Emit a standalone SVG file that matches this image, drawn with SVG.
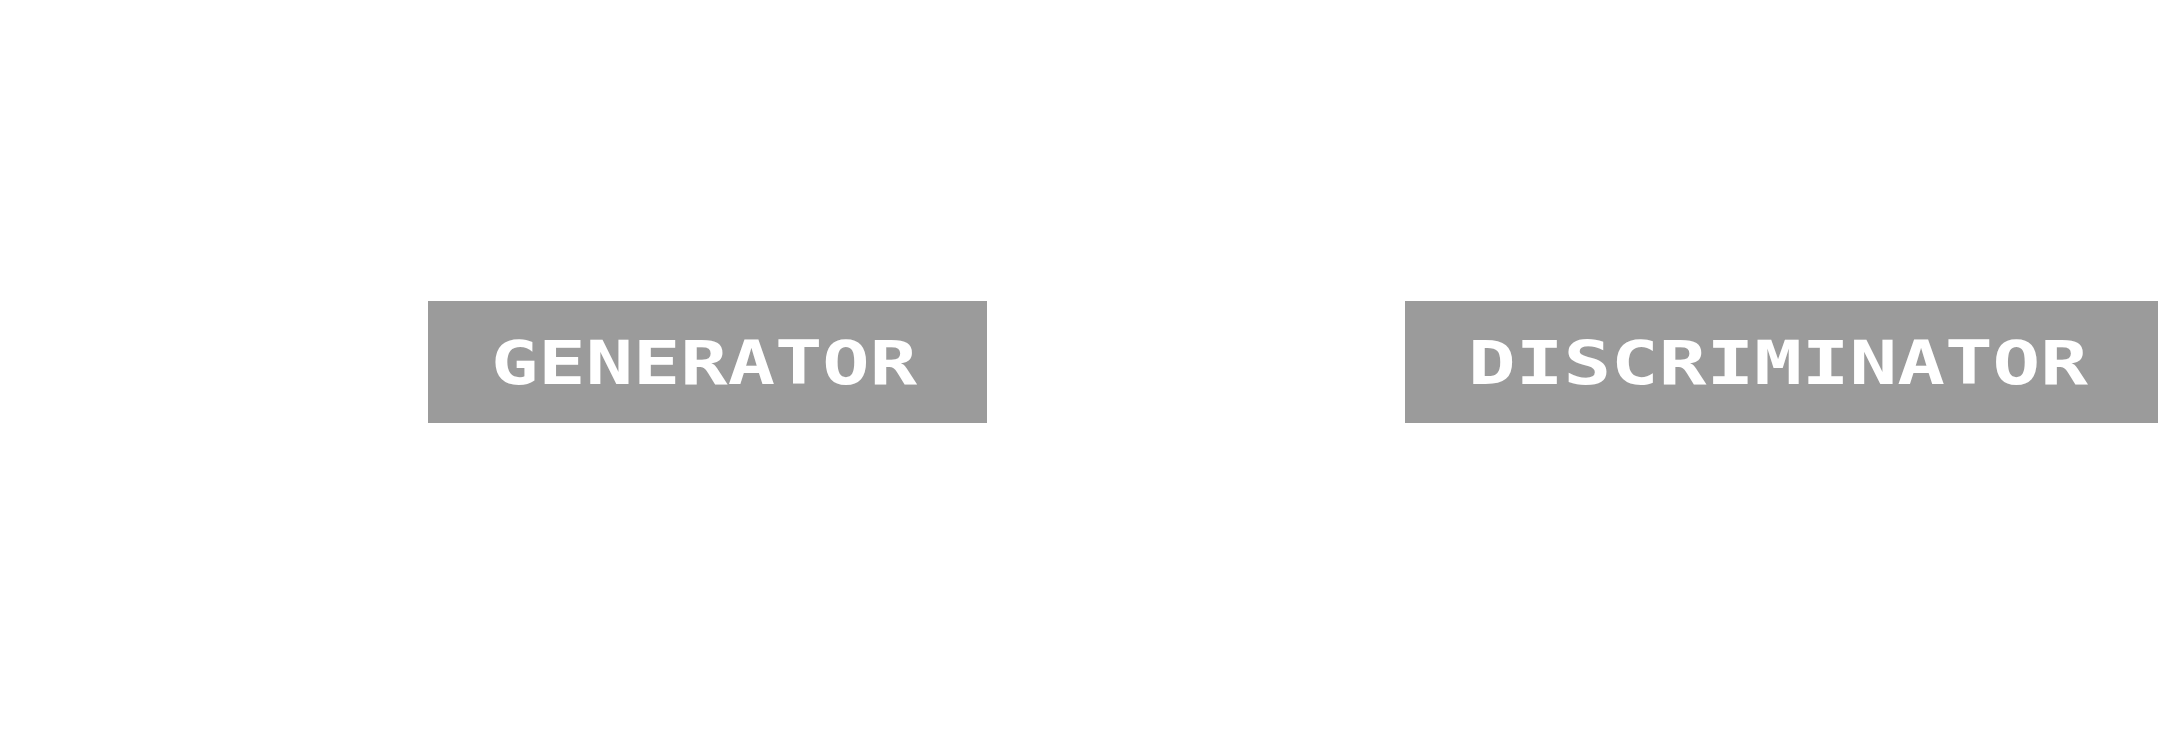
<svg xmlns="http://www.w3.org/2000/svg" width="2158" height="756" viewBox="0 0 2158 756">
<style>
.box{fill:#9b9b9b}
.lbl{fill:#ffffff;font-family:"DejaVu Sans Mono","Liberation Mono",monospace;font-weight:bold;font-size:60px}
</style>
<rect x="0" y="0" width="2158" height="756" fill="#ffffff"/>
<g id="connectors"></g>
<g id="generator">
<rect class="box" x="428" y="301" width="559" height="122"/>
<text class="lbl" x="491" y="384" textLength="426" lengthAdjust="spacingAndGlyphs">GENERATOR</text>
</g>
<g id="discriminator">
<rect class="box" x="1405" y="301" width="760" height="122"/>
<text class="lbl" x="1468" y="384" textLength="620" lengthAdjust="spacingAndGlyphs">DISCRIMINATOR</text>
</g>
</svg>
